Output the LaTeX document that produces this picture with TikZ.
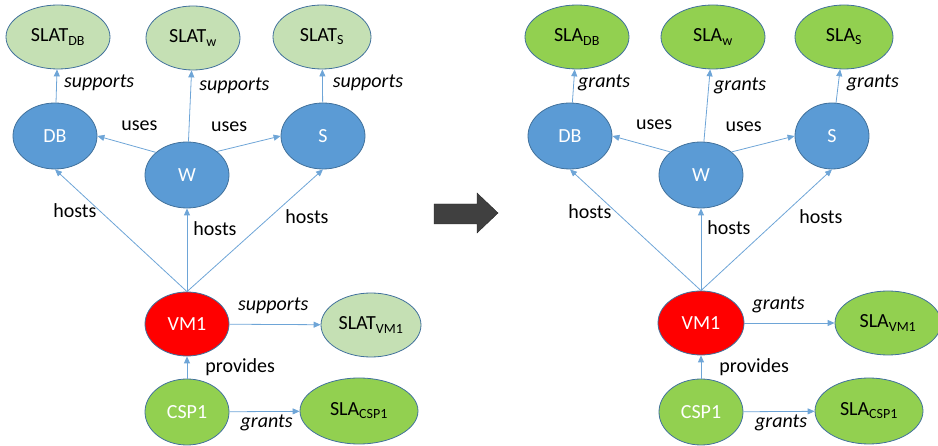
\documentclass[tikz,border=0pt]{standalone}
\usepackage{fontspec}
\setmainfont{Carlito}
\usetikzlibrary{shapes, arrows.meta}
\definecolor{tplgreen}{RGB}{197,224,180}
\definecolor{slagreen}{RGB}{146,208,80}
\definecolor{cmpblue}{RGB}{91,155,213}
\definecolor{rimblue}{RGB}{65,113,156}
\definecolor{lnblue}{RGB}{110,165,215}
\definecolor{blockgray}{RGB}{64,64,64}

\begin{document}
\begin{tikzpicture}[x=1pt,y=-1pt,
    el/.style={ellipse,draw=rimblue,line width=.8pt,inner sep=0pt,font=\fontsize{20}{24}\selectfont},
    cp/.style={el,fill=cmpblue,text=white,minimum width=84pt,minimum height=66pt},
    vm/.style={el,fill=red,text=white,minimum width=84pt,minimum height=64pt},
    csp/.style={el,fill=slagreen,text=white,minimum width=84pt,minimum height=66pt},
    tp/.style={el,fill=tplgreen,minimum width=102pt,minimum height=64pt},
    sl/.style={el,fill=slagreen,minimum width=102pt,minimum height=64pt}]
    \useasboundingbox (0,0) rectangle (938,446);

    % before: templates
    \draw (58,37)   node[tp,minimum width=104pt](tdb){SLAT\textsubscript{DB}};
    \draw (193,38)  node[tp,minimum width=94pt](tw){SLAT\textsubscript{w}};
    \draw (322,37)  node[tp,minimum width=98pt](ts){SLAT\textsubscript{S}};
    \draw (55,136)  node[cp](db){DB};
    \draw (187,175) node[cp](w){W};
    \draw (323,136) node[cp](s){S};
    \draw (187,324) node[vm](vm){VM1};
    \draw (371,325) node[tp,minimum width=100pt](tvm){SLAT\textsubscript{VM1}};
    \draw (187,412) node[csp](csp){CSP1};
    \draw (359,411) node[sl,minimum width=118pt,minimum height=66pt](scsp){SLA\textsubscript{CSP1}};

    % after: agreements
    \draw (577,37)  node[sl,minimum width=104pt](rtdb){SLA\textsubscript{DB}};
    \draw (713,37)  node[sl,minimum width=104pt](rtw){SLA\textsubscript{w}};
    \draw (844,37)  node[sl,minimum width=98pt](rts){SLA\textsubscript{S}};
    \draw (570,136) node[cp](rdb){DB};
    \draw (701,175) node[cp](rw){W};
    \draw (832,136) node[cp,minimum width=74pt](rs){S};
    \draw (701,323) node[vm,minimum width=86pt](rvm){VM1};
    \draw (888,323) node[sl,minimum width=106pt](rtvm){SLA\textsubscript{VM1}};
    \draw (701,412) node[csp](rcsp){CSP1};
    \draw (869,411) node[sl,minimum width=108pt,minimum height=66pt](rscsp){SLA\textsubscript{CSP1}};

    % big arrow
    \filldraw[fill=blockgray,draw=black!85] (434,204) -- (477,204) -- (477,193) -- (498,213)
        -- (477,233) -- (477,224) -- (434,224) -- cycle;

    \begin{scope}[lnblue, line width=.8pt, >={Triangle[length=7pt,width=6pt]},
        nd/.style={text=black, inner sep=0pt, font=\fontsize{20}{24}\selectfont},
        it/.style={nd, font=\fontsize{20}{24}\itshape}]
        \path[->] (db) edge node[it,right=7pt,pos=.6] {supports} (tdb);
        \path[->] (w) edge node[it,right=8pt,pos=.78] {supports} (tw);
        \path[->] (s) edge node[it,right=10pt,pos=.6] {supports} (ts);
        \path[->] (w.144) edge node[nd,above=17pt,pos=.28] {uses} (db.east);
        \path[->] (w.38) edge node[nd,above=16.5pt,pos=.19] {uses} (s.west);
        \path[->] (vm.north) edge node[nd,left=3pt,pos=.66] {hosts} (db.south);
        \path[->] (vm.north) edge node[nd,right=6pt,pos=.76] {hosts} (w.south);
        \path[->] (vm.north) edge node[nd,right=15pt,pos=.61] {hosts} (s.south);
        \path[->] (vm) edge node[it,above=10.5pt,pos=.48] {supports} (tvm);
        \path[->] (csp) edge node[nd,right=18pt,pos=.5] {provides} (vm);
        \path[->] (csp) edge node[it,below=2.5pt,pos=.53] {grants} (scsp);

        \path[->] (rdb) edge node[it,right=4pt,pos=.6] {grants} (rtdb);
        \path[->] (rw) edge node[it,right=5pt,pos=.77] {grants} (rtw);
        \path[->] (rs) edge node[it,right=8pt,pos=.6] {grants} (rts);
        \path[->] (rw.143) edge node[nd,above=17pt,pos=.28] {uses} (rdb.east);
        \path[->] (rw.37) edge node[nd,above=16.5pt,pos=.19] {uses} (rs.west);
        \path[->] (rvm.north) edge node[nd,left=4pt,pos=.65] {hosts} (rdb.south);
        \path[->] (rvm.north) edge node[nd,right=6pt,pos=.76] {hosts} (rw.south);
        \path[->] (rvm.north) edge node[nd,right=18pt,pos=.61] {hosts} (rs.south);
        \path[->] (rvm) edge node[it,above=10pt,pos=.38] {grants} (rtvm);
        \path[->] (rcsp) edge node[nd,right=18pt,pos=.5] {provides} (rvm);
        \path[->] (rcsp) edge node[it,below=2.5pt,pos=.53] {grants} (rscsp);
    \end{scope}
\end{tikzpicture}
\end{document}
